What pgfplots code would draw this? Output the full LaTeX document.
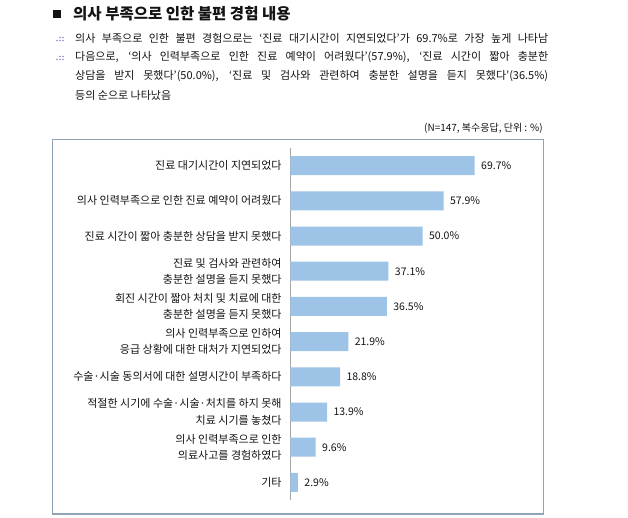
\documentclass[border=0pt]{standalone}
\usepackage{fontspec}
\setmainfont{Noto Sans CJK KR}
\usepackage{pgfplots}
\pgfplotsset{compat=1.18}
\definecolor{barblue}{HTML}{9DC3E6}
\definecolor{framec}{HTML}{8FA3B8}
\definecolor{txt}{HTML}{141414}
\definecolor{dotc}{HTML}{8C8CC8}
\begin{document}
\begin{tikzpicture}
\useasboundingbox (0,0) rectangle (628pt,-517pt);
\fill[white] (0,0) rectangle (628pt,-517pt);
% title
\fill[txt] (52.7pt,-10pt) rectangle (60.7pt,-18pt);
\node[anchor=west,inner sep=0pt,font=\fontsize{15.5}{17}\selectfont\bfseries,text=txt] at (73pt,-14pt) {의사 부족으로 인한 불편 경험 내용};
% bullets
\foreach \yy in {38.5,57.5}{
  \fill[dotc] (57pt,-\yy pt-2pt) circle (0.8pt);
  \fill[dotc] (60pt,-\yy pt-2pt) circle (0.8pt);
  \fill[dotc] (63pt,-\yy pt-2pt) circle (0.8pt);
  \fill[dotc] (60pt,-\yy pt+1pt) circle (0.8pt);
  \fill[dotc] (63pt,-\yy pt+1pt) circle (0.8pt);
}
\begin{scope}[every node/.style={anchor=west,inner sep=0pt,font=\fontsize{11}{13}\selectfont,text=txt}]
\node at (75pt,-38.5pt) {\makebox[473pt][s]{의사 부족으로 인한 불편 경험으로는 ‘진료 대기시간이 지연되었다’가 69.7\%로 가장 높게 나타남}};
\node at (75pt,-57.5pt) {\makebox[473pt][s]{다음으로, ‘의사 인력부족으로 인한 진료 예약이 어려웠다’(57.9\%), ‘진료 시간이 짧아 충분한}};
\node at (75pt,-76.5pt) {\makebox[473pt][s]{상담을 받지 못했다’(50.0\%), ‘진료 및 검사와 관련하여 충분한 설명을 듣지 못했다’(36.5\%)}};
\node at (75pt,-95.5pt) {등의 순으로 나타났음};
\end{scope}
\node[anchor=east,inner sep=0pt,font=\fontsize{10}{12}\selectfont,text=txt] at (543pt,-128pt) {(N=147, 복수응답, 단위 : \%)};
\draw[framec, line width=1.2pt] (52.7pt,-139.3pt) rectangle (543.3pt,-514pt);
\begin{axis}[
  at={(290.3pt,-148pt)}, anchor=north west,
  scale only axis, width=211.7pt, height=352pt,
  xmin=0, xmax=80, ymin=-0.5, ymax=9.5, y dir=reverse,
  xbar, bar width=19pt,
  axis x line=none, axis y line*=left,
  axis line style={draw=black!35, line width=0.8pt, -},
  ytick={0,...,9},
  yticklabels={
    진료 대기시간이 지연되었다,
    의사 인력부족으로 인한 진료 예약이 어려웠다,
    진료 시간이 짧아 충분한 상담을 받지 못했다,
    {진료 및 검사와 관련하여\\충분한 설명을 듣지 못했다},
    {회진 시간이 짧아 처치 및 치료에 대한\\충분한 설명을 듣지 못했다},
    {의사 인력부족으로 인하여\\응급 상황에 대한 대처가 지연되었다},
    수술·시술 동의서에 대한 설명시간이 부족하다,
    {적절한 시기에 수술·시술·처치를 하지 못해\\치료 시기를 놓쳤다},
    {의사 인력부족으로 인한\\의료사고를 경험하였다},
    기타},
  major tick length=0pt,
  yticklabel style={align=right, font=\fontsize{11}{16.5}\selectfont, inner sep=0pt, xshift=-8.5pt, text=txt},
  point meta=x,
  /pgf/number format/assume math mode=true,
  nodes near coords={\pgfmathprintnumber[fixed,fixed zerofill,precision=1]{\pgfplotspointmeta}\%},
  every node near coord/.append style={font=\fontsize{10.5}{12}\selectfont, inner sep=0pt, xshift=6.3pt, text=txt},
  clip=false,
]
\addplot[fill=barblue, draw=none] coordinates {
  (69.7,0) (57.9,1) (50.0,2) (37.1,3) (36.5,4)
  (21.9,5) (18.8,6) (13.9,7) (9.6,8) (2.9,9)};
\end{axis}
\end{tikzpicture}
\end{document}
